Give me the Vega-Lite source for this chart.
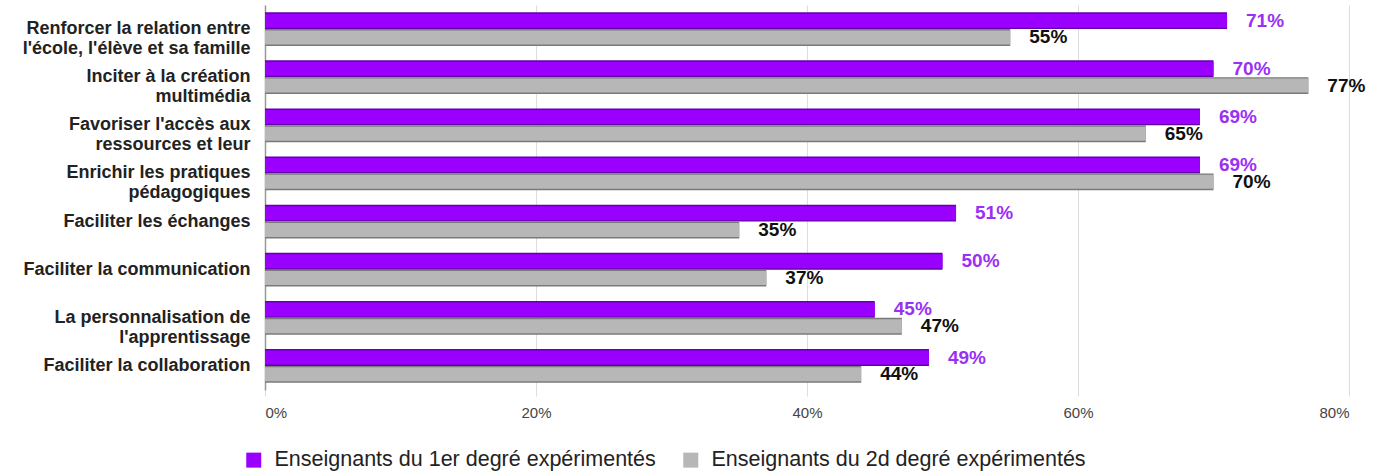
{
  "$schema": "https://vega.github.io/schema/vega-lite/v6.json",
  "autosize": "none",
  "padding": {"left": 265, "top": 5, "right": 30, "bottom": 82},
  "width": 1084,
  "height": 385,
  "background": "white",
  "config": {
    "font": "Liberation Sans",
    "view": {"stroke": null}
  },
  "data": {
    "values": [
      {"cat": "Renforcer la relation entre|l'école, l'élève et sa famille", "series": "Enseignants du 1er degré expérimentés", "v": 0.71},
      {"cat": "Renforcer la relation entre|l'école, l'élève et sa famille", "series": "Enseignants du 2d degré expérimentés", "v": 0.55},
      {"cat": "Inciter à la création|multimédia", "series": "Enseignants du 1er degré expérimentés", "v": 0.70},
      {"cat": "Inciter à la création|multimédia", "series": "Enseignants du 2d degré expérimentés", "v": 0.77},
      {"cat": "Favoriser l'accès aux|ressources et leur", "series": "Enseignants du 1er degré expérimentés", "v": 0.69},
      {"cat": "Favoriser l'accès aux|ressources et leur", "series": "Enseignants du 2d degré expérimentés", "v": 0.65},
      {"cat": "Enrichir les pratiques|pédagogiques", "series": "Enseignants du 1er degré expérimentés", "v": 0.69},
      {"cat": "Enrichir les pratiques|pédagogiques", "series": "Enseignants du 2d degré expérimentés", "v": 0.70},
      {"cat": "Faciliter les échanges", "series": "Enseignants du 1er degré expérimentés", "v": 0.51},
      {"cat": "Faciliter les échanges", "series": "Enseignants du 2d degré expérimentés", "v": 0.35},
      {"cat": "Faciliter la communication", "series": "Enseignants du 1er degré expérimentés", "v": 0.50},
      {"cat": "Faciliter la communication", "series": "Enseignants du 2d degré expérimentés", "v": 0.37},
      {"cat": "La personnalisation de|l'apprentissage", "series": "Enseignants du 1er degré expérimentés", "v": 0.45},
      {"cat": "La personnalisation de|l'apprentissage", "series": "Enseignants du 2d degré expérimentés", "v": 0.47},
      {"cat": "Faciliter la collaboration", "series": "Enseignants du 1er degré expérimentés", "v": 0.49},
      {"cat": "Faciliter la collaboration", "series": "Enseignants du 2d degré expérimentés", "v": 0.44}
    ]
  },
  "encoding": {
    "y": {
      "field": "cat",
      "type": "nominal",
      "sort": null,
      "title": null,
      "scale": {"paddingInner": 0.3, "paddingOuter": 0.15},
      "axis": {
        "labelExpr": "split(datum.label, '|')",
        "labelFont": "Liberation Sans",
        "labelFontWeight": "bold",
        "labelFontSize": 18,
        "labelColor": "#222222",
        "labelLineHeight": 20,
        "labelPadding": 15,
        "labelLimit": 300,
        "ticks": false,
        "domain": true,
        "domainColor": "#999999",
        "domainWidth": 1.5
      }
    },
    "yOffset": {"field": "series", "type": "nominal", "sort": null},
    "x": {
      "field": "v",
      "type": "quantitative",
      "title": null,
      "scale": {"domain": [0, 0.8], "nice": false},
      "axis": {
        "format": ".0%",
        "values": [0, 0.2, 0.4, 0.6, 0.8],
        "domain": false,
        "grid": true,
        "gridColor": "#dddddd",
        "ticks": true,
        "tickColor": "#dddddd",
        "tickSize": 6,
        "labelPadding": 9,
        "labelFontSize": 15,
        "labelColor": "#444444",
        "labelFont": "Liberation Sans"
      }
    }
  },
  "layer": [
    {
      "mark": {"type": "bar"},
      "encoding": {
        "color": {
          "condition": {"test": "datum.series === 'Enseignants du 1er degré expérimentés'", "value": "#6500a8"},
          "value": "#7a7a7a"
        }
      }
    },
    {
      "mark": {"type": "bar", "height": 14, "yOffset": -1.4},
      "encoding": {
        "color": {
          "field": "series",
          "type": "nominal",
          "sort": null,
          "scale": {"range": ["#9900ff", "#b7b7b7"]},
          "legend": {
            "title": null,
            "orient": "none",
            "direction": "horizontal",
            "legendX": -22,
            "legendY": 444,
            "symbolType": "square",
            "symbolSize": 225,
            "symbolStrokeWidth": 0,
            "symbolOpacity": 1,
            "labelFontSize": 21.5,
            "labelFont": "Liberation Sans",
            "labelColor": "#222222",
            "labelOffset": 10,
            "columnPadding": 24,
            "labelLimit": 600
          }
        }
      }
    },
    {
      "mark": {"type": "text", "align": "left", "baseline": "middle", "dx": 19, "fontSize": 19, "fontWeight": "bold", "font": "Liberation Sans"},
      "encoding": {
        "text": {"field": "v", "type": "quantitative", "format": ".0%"},
        "color": {
          "condition": {"test": "datum.series === 'Enseignants du 1er degré expérimentés'", "value": "#9b30f5"},
          "value": "#111111"
        }
      }
    }
  ]
}
